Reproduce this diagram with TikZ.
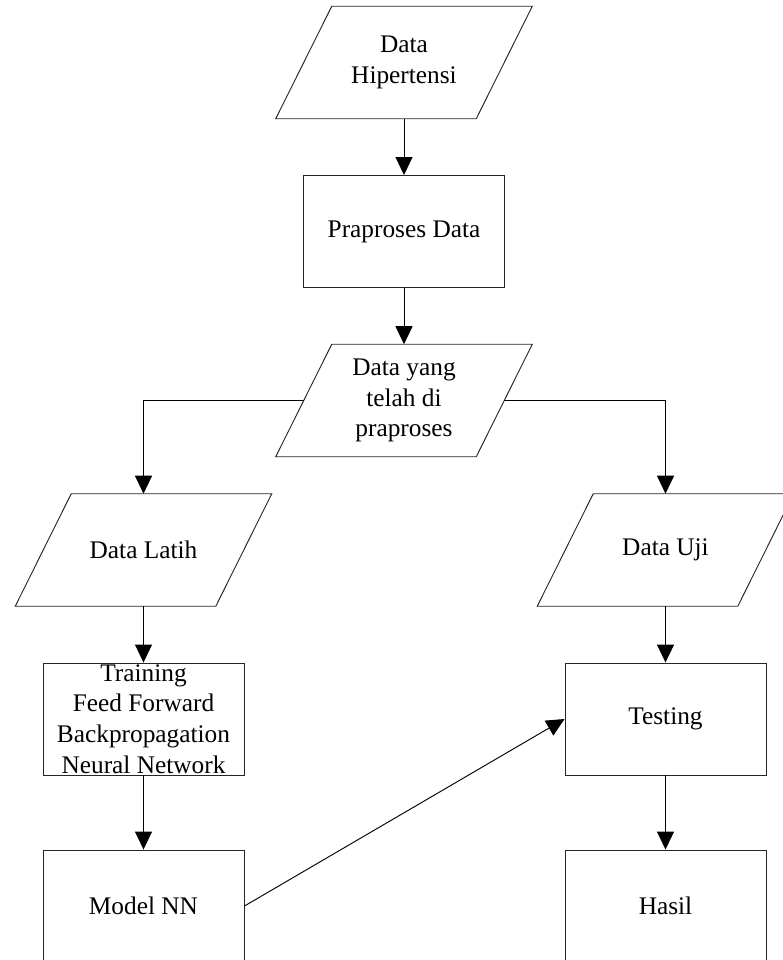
\documentclass[tikz,border=0pt]{standalone}
\usepackage{fontspec}
\setmainfont{Liberation Serif}
\usetikzlibrary{arrows.meta}

% outline of an input/output parallelogram around a named node
\newcommand\slantoutline[1]{%
  \draw[edge] ([xshift=21pt]#1.north west) -- ([xshift=21pt]#1.north east)
    -- ([xshift=-21pt]#1.south east) -- ([xshift=-21pt]#1.south west) -- cycle;}

\begin{document}
\begin{tikzpicture}[x=0.75pt,y=-0.75pt,
  every node/.style={font=\fontsize{19}{23}\selectfont, align=center, inner sep=0pt},
  edge/.style={draw=black!85, line width=0.7pt},
  procbox/.style={edge, minimum width=150.75pt, minimum height=84pt},
  iobox/.style={minimum width=150pt, minimum height=84pt},
  flow/.style={-{Triangle[length=13.5pt,width=12.75pt]}, line width=0.7pt}]
\useasboundingbox (0,0) rectangle (782,960);

% input and intermediate data
\node[iobox] (hip) at (404,62.5) {Data\\Hipertensi};
\slantoutline{hip}
\node[procbox] (prep) at (404,231.5) {Praproses Data};
\node[iobox] (pra) at (404,400.5) {Data yang\\telah di\\praproses};
\slantoutline{pra}

% training branch
\node[iobox] (latih) at (143.5,550) {Data Latih};
\slantoutline{latih}
\node[procbox] (train) at (143.5,719) {};
\node[align=center] (traintext) at (train.center) {Training\\Feed Forward\\Backpropagation\\Neural Network};
\node[procbox] (model) at (143.5,906) {Model NN};

% testing branch
\node[iobox] (uji) at (665.5,550) {Data Uji};
\slantoutline{uji}
\node[procbox] (test) at (665.5,719) {Testing};
\node[procbox] (hasil) at (665.5,906) {Hasil};

% connectors
\draw[flow] (hip.south) -- (prep.north);
\draw[flow] (prep.south) -- (pra.north);
\draw[flow] (pra.west) -| (latih.north);
\draw[flow] (pra.east) -| (uji.north);
\draw[flow] (latih.south) -- (train.north);
\draw[flow] (train.south) -- (model.north);
\draw[flow] (model.east) -- (test.west);
\draw[flow] (uji.south) -- (test.north);
\draw[flow] (test.south) -- (hasil.north);
\end{tikzpicture}
\end{document}
